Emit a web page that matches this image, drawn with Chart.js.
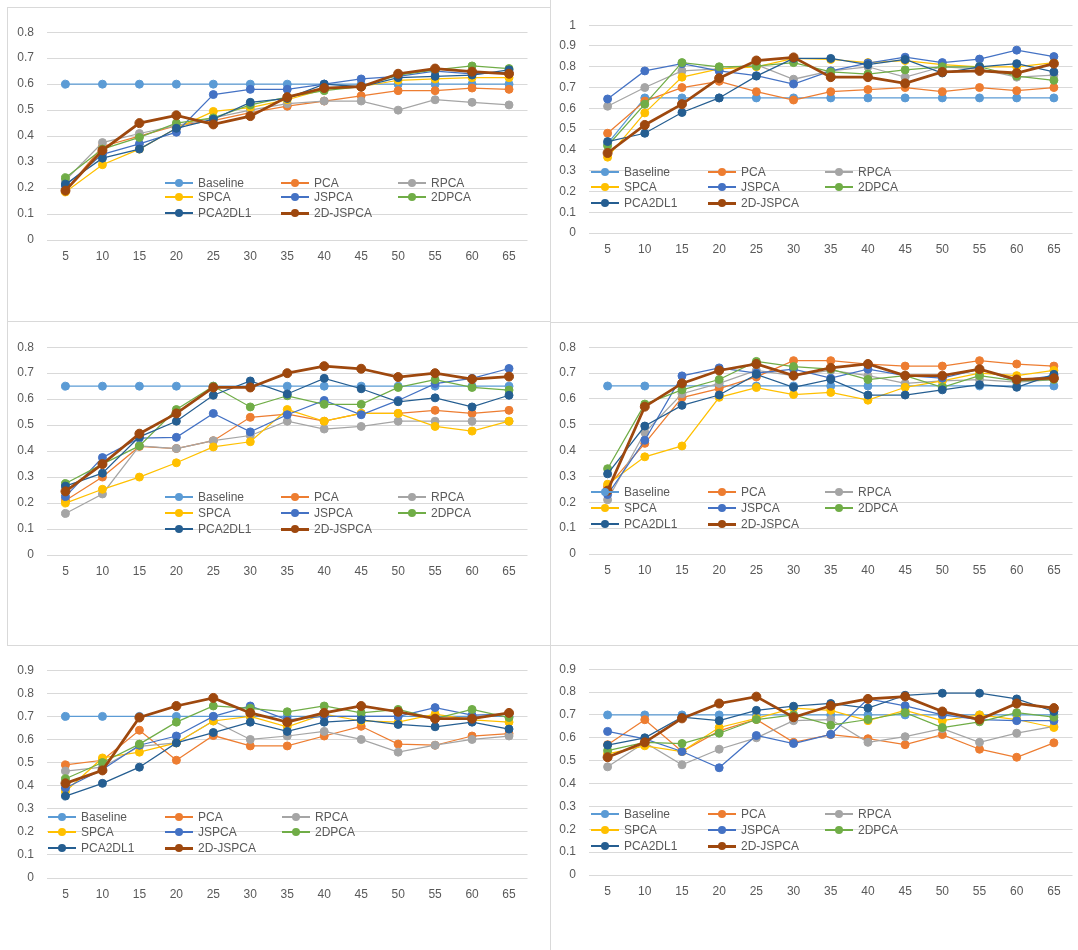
<!DOCTYPE html>
<html>
<head>
<meta charset="utf-8">
<script src="https://cdn.jsdelivr.net/npm/chart.js@4/dist/chart.umd.min.js"></script>
<style>
  html, body { margin: 0; padding: 0; background: #fff; }
  body { width: 1078px; height: 950px; position: relative; overflow: hidden; font-family: 'Liberation Sans', 'Noto Sans', sans-serif; }
  .ln { position: absolute; background: #d9d9d9; }
  canvas { position: absolute; }
  .lg { position: absolute; height: 16px; display: flex; align-items: center; font-size: 12px; color: #595959; white-space: nowrap; }
  .sw { position: relative; width: 28px; height: 16px; }
  .sw .bar { position: absolute; left: 0; right: 0; }
  .sw .dot { position: absolute; left: 10px; top: 4px; width: 8px; height: 8px; border-radius: 50%; }
  .lg span { margin-left: 5px; }
</style>
</head>
<body>
<script>
// x categories and series names
const dims = [5, 10, 15, 20, 25, 30, 35, 40, 45, 50, 55, 60, 65];
const names = ['Baseline', 'PCA', 'RPCA', 'SPCA', 'JSPCA', '2DPCA', 'PCA2DL1', '2D-JSPCA'];

// one list per panel, rows in the order of names
const panelA = [
  [0.6, 0.6, 0.6, 0.6, 0.6, 0.6, 0.6, 0.6, 0.6, 0.6, 0.6, 0.6, 0.6],
  [0.19, 0.36, 0.40, 0.44, 0.46, 0.49, 0.515, 0.535, 0.555, 0.575, 0.575, 0.585, 0.58],
  [0.23, 0.375, 0.41, 0.44, 0.47, 0.50, 0.525, 0.535, 0.535, 0.50, 0.54, 0.53, 0.52],
  [0.185, 0.29, 0.35, 0.43, 0.495, 0.51, 0.54, 0.58, 0.59, 0.615, 0.62, 0.625, 0.625],
  [0.21, 0.33, 0.37, 0.415, 0.56, 0.58, 0.58, 0.60, 0.62, 0.63, 0.65, 0.64, 0.645],
  [0.24, 0.35, 0.395, 0.45, 0.47, 0.52, 0.55, 0.575, 0.59, 0.635, 0.655, 0.67, 0.66],
  [0.215, 0.315, 0.35, 0.43, 0.465, 0.53, 0.545, 0.60, 0.59, 0.625, 0.63, 0.635, 0.655],
  [0.19, 0.345, 0.45, 0.48, 0.445, 0.477, 0.55, 0.585, 0.59, 0.64, 0.66, 0.648, 0.64]
];
const panelB = [
  [0.43, 0.65, 0.65, 0.65, 0.65, 0.65, 0.65, 0.65, 0.65, 0.65, 0.65, 0.65, 0.65],
  [0.48, 0.635, 0.70, 0.73, 0.68, 0.64, 0.68, 0.69, 0.70, 0.68, 0.70, 0.685, 0.70],
  [0.61, 0.70, 0.78, 0.79, 0.81, 0.74, 0.78, 0.80, 0.75, 0.80, 0.79, 0.75, 0.76],
  [0.365, 0.578, 0.75, 0.79, 0.80, 0.84, 0.835, 0.82, 0.83, 0.81, 0.80, 0.80, 0.82],
  [0.645, 0.78, 0.815, 0.78, 0.757, 0.717, 0.78, 0.818, 0.846, 0.82, 0.837, 0.88, 0.849],
  [0.42, 0.62, 0.82, 0.80, 0.803, 0.82, 0.775, 0.765, 0.785, 0.80, 0.80, 0.755, 0.735],
  [0.44, 0.48, 0.58, 0.65, 0.755, 0.84, 0.84, 0.81, 0.835, 0.77, 0.80, 0.815, 0.775],
  [0.385, 0.52, 0.62, 0.745, 0.83, 0.845, 0.75, 0.75, 0.72, 0.775, 0.78, 0.77, 0.815]
];
const panelC = [
  [0.65, 0.65, 0.65, 0.65, 0.65, 0.65, 0.65, 0.65, 0.65, 0.65, 0.65, 0.65, 0.65],
  [0.21, 0.30, 0.418, 0.41, 0.44, 0.53, 0.542, 0.515, 0.545, 0.545, 0.557, 0.545, 0.557],
  [0.16, 0.235, 0.42, 0.41, 0.44, 0.46, 0.515, 0.485, 0.495, 0.515, 0.515, 0.515, 0.515],
  [0.20, 0.253, 0.30, 0.355, 0.416, 0.436, 0.56, 0.515, 0.545, 0.545, 0.495, 0.477, 0.515],
  [0.225, 0.375, 0.45, 0.453, 0.545, 0.474, 0.54, 0.595, 0.54, 0.595, 0.66, 0.68, 0.718],
  [0.275, 0.35, 0.42, 0.56, 0.65, 0.57, 0.613, 0.58, 0.58, 0.645, 0.675, 0.645, 0.635],
  [0.265, 0.315, 0.455, 0.515, 0.615, 0.67, 0.62, 0.68, 0.64, 0.59, 0.605, 0.57, 0.615],
  [0.245, 0.35, 0.467, 0.545, 0.645, 0.645, 0.70, 0.727, 0.717, 0.685, 0.70, 0.677, 0.687]
];
const panelD = [
  [0.65, 0.65, 0.65, 0.65, 0.65, 0.65, 0.65, 0.65, 0.65, 0.65, 0.65, 0.65, 0.65],
  [0.26, 0.428, 0.605, 0.64, 0.685, 0.748, 0.748, 0.735, 0.727, 0.727, 0.748, 0.735, 0.727],
  [0.21, 0.47, 0.62, 0.66, 0.71, 0.69, 0.71, 0.69, 0.66, 0.67, 0.675, 0.665, 0.675],
  [0.27, 0.376, 0.418, 0.606, 0.644, 0.617, 0.625, 0.595, 0.645, 0.67, 0.70, 0.69, 0.71],
  [0.23, 0.44, 0.689, 0.72, 0.70, 0.715, 0.68, 0.715, 0.69, 0.68, 0.715, 0.67, 0.69],
  [0.33, 0.58, 0.635, 0.675, 0.745, 0.725, 0.715, 0.675, 0.69, 0.645, 0.69, 0.67, 0.675],
  [0.31, 0.495, 0.575, 0.615, 0.695, 0.645, 0.675, 0.615, 0.615, 0.635, 0.655, 0.645, 0.695],
  [0.245, 0.57, 0.66, 0.71, 0.735, 0.69, 0.72, 0.735, 0.69, 0.69, 0.715, 0.675, 0.68]
];
const panelE = [
  [0.7, 0.7, 0.7, 0.7, 0.7, 0.7, 0.7, 0.7, 0.7, 0.7, 0.7, 0.7, 0.7],
  [0.49, 0.51, 0.64, 0.51, 0.617, 0.572, 0.572, 0.615, 0.657, 0.58, 0.575, 0.615, 0.625],
  [0.463, 0.48, 0.57, 0.585, 0.68, 0.60, 0.615, 0.635, 0.60, 0.545, 0.575, 0.60, 0.615],
  [0.375, 0.52, 0.545, 0.585, 0.68, 0.70, 0.655, 0.71, 0.68, 0.675, 0.71, 0.685, 0.675],
  [0.39, 0.47, 0.575, 0.615, 0.70, 0.745, 0.685, 0.70, 0.70, 0.70, 0.738, 0.705, 0.71],
  [0.43, 0.50, 0.58, 0.675, 0.745, 0.735, 0.72, 0.745, 0.715, 0.73, 0.69, 0.73, 0.695],
  [0.355, 0.41, 0.48, 0.585, 0.63, 0.675, 0.635, 0.675, 0.685, 0.665, 0.655, 0.675, 0.645],
  [0.41, 0.466, 0.695, 0.745, 0.78, 0.715, 0.675, 0.715, 0.745, 0.72, 0.69, 0.69, 0.715]
];
const panelF = [
  [0.7, 0.7, 0.7, 0.7, 0.7, 0.7, 0.7, 0.7, 0.7, 0.7, 0.7, 0.7, 0.7],
  [0.57, 0.679, 0.54, 0.63, 0.68, 0.58, 0.614, 0.596, 0.57, 0.614, 0.55, 0.515, 0.578],
  [0.473, 0.58, 0.482, 0.55, 0.60, 0.675, 0.68, 0.58, 0.605, 0.64, 0.58, 0.62, 0.65],
  [0.53, 0.565, 0.54, 0.645, 0.685, 0.73, 0.72, 0.675, 0.72, 0.675, 0.70, 0.68, 0.645],
  [0.628, 0.595, 0.54, 0.469, 0.61, 0.575, 0.615, 0.77, 0.74, 0.70, 0.68, 0.675, 0.675],
  [0.544, 0.58, 0.575, 0.62, 0.68, 0.70, 0.655, 0.68, 0.71, 0.645, 0.67, 0.71, 0.69],
  [0.568, 0.60, 0.69, 0.675, 0.72, 0.738, 0.75, 0.73, 0.786, 0.795, 0.795, 0.77, 0.715],
  [0.515, 0.58, 0.685, 0.75, 0.78, 0.69, 0.74, 0.77, 0.78, 0.715, 0.68, 0.75, 0.73]
];

// styles
const colors = ['#5B9BD5', '#ED7D31', '#A5A5A5', '#FFC000', '#4472C4', '#70AD47', '#255E91', '#9E480E'];
const widths = [1.25, 1.25, 1.25, 1.25, 1.25, 1.25, 1.25, 2.75];

// plot box [left, top, right, bottom] in page px, legend columns / rows
const panels = [
  { rows: panelA, max: 0.8, plot: [47, 24, 531, 240], lx: [165, 281, 398], ly: [183, 197, 213] },
  { rows: panelB, max: 1.0, plot: [589, 17, 1076, 233], lx: [591, 708, 825], ly: [172, 187, 203] },
  { rows: panelC, max: 0.8, plot: [47, 339, 531, 555], lx: [165, 281, 398], ly: [497, 513, 529] },
  { rows: panelD, max: 0.8, plot: [589, 339, 1076, 554], lx: [591, 708, 825], ly: [492, 508, 524] },
  { rows: panelE, max: 0.9, plot: [47, 662, 531, 878], lx: [48, 165, 282], ly: [817, 832, 848] },
  { rows: panelF, max: 0.9, plot: [589, 661, 1076, 875], lx: [591, 708, 825], ly: [814, 830, 846] }
];

// frame lines like the pasted excel charts
function line(x, y, w, h) {
  const d = document.createElement('div');
  d.className = 'ln';
  d.style.cssText = `left:${x}px;top:${y}px;width:${w}px;height:${h}px`;
  document.body.appendChild(d);
}
line(7, 7, 543, 1);
line(7, 7, 1, 639);
line(550, 0, 1, 950);
line(7, 321, 543, 1);
line(550, 322, 528, 1);
line(7, 645, 1071, 1);

const AXW = 44, PADT = 12, XAXH = 30;
const tickFont = { family: "'Liberation Sans', 'Noto Sans', sans-serif", size: 12 };

function makeChart(p) {
  const [L, T, R, B] = p.plot;
  const cv = document.createElement('canvas');
  const left = L - AXW, top = T - PADT;
  const w = R - left + 2, h = B - top + XAXH + 2;
  cv.width = w; cv.height = h;
  cv.style.left = left + 'px'; cv.style.top = top + 'px';
  cv.style.width = w + 'px'; cv.style.height = h + 'px';
  document.body.appendChild(cv);

  new Chart(cv.getContext('2d'), {
    type: 'line',
    data: {
      labels: dims,
      datasets: names.map((n, i) => ({
        label: n,
        data: p.rows[i],
        borderColor: colors[i],
        backgroundColor: colors[i],
        borderWidth: widths[i],
        pointRadius: i === 7 ? 4.5 : 4,
        pointBorderWidth: 1,
        pointBackgroundColor: colors[i],
        pointBorderColor: colors[i],
        tension: 0,
        order: 7 - i
      }))
    },
    options: {
      responsive: false,
      animation: false,
      layout: { padding: { left: 0, top: PADT, right: 2, bottom: 2 } },
      plugins: { legend: { display: false }, tooltip: { enabled: false } },
      scales: {
        x: {
          offset: true,
          grid: { display: false, drawTicks: false },
          border: { display: false },
          ticks: { color: '#595959', font: tickFont, padding: 9, maxRotation: 0 },
          afterFit: s => { s.height = XAXH; }
        },
        y: {
          min: 0, max: p.max,
          grid: { color: '#d9d9d9', drawTicks: false, lineWidth: 1 },
          border: { display: false },
          ticks: { stepSize: 0.1, color: '#595959', font: tickFont, padding: 13,
                   callback: v => String(+v.toFixed(2)) },
          afterFit: s => { s.width = AXW; }
        }
      }
    }
  });

  // legend laid out like excel's, 3 columns inside the plot
  names.forEach((n, i) => {
    const d = document.createElement('div');
    d.className = 'lg';
    d.style.left = p.lx[i % 3] + 'px';
    d.style.top = (p.ly[Math.floor(i / 3)] - 8) + 'px';
    const lw = i === 7 ? 3 : 1.25;
    d.innerHTML = `<div class="sw"><div class="bar" style="top:${8 - lw / 2}px;height:${lw}px;background:${colors[i]}"></div>` +
      `<div class="dot" style="background:${colors[i]}"></div></div><span>${n}</span>`;
    document.body.appendChild(d);
  });
}

document.addEventListener('DOMContentLoaded', () => {
  panels.forEach(makeChart);
});
</script>
</body>
</html>
